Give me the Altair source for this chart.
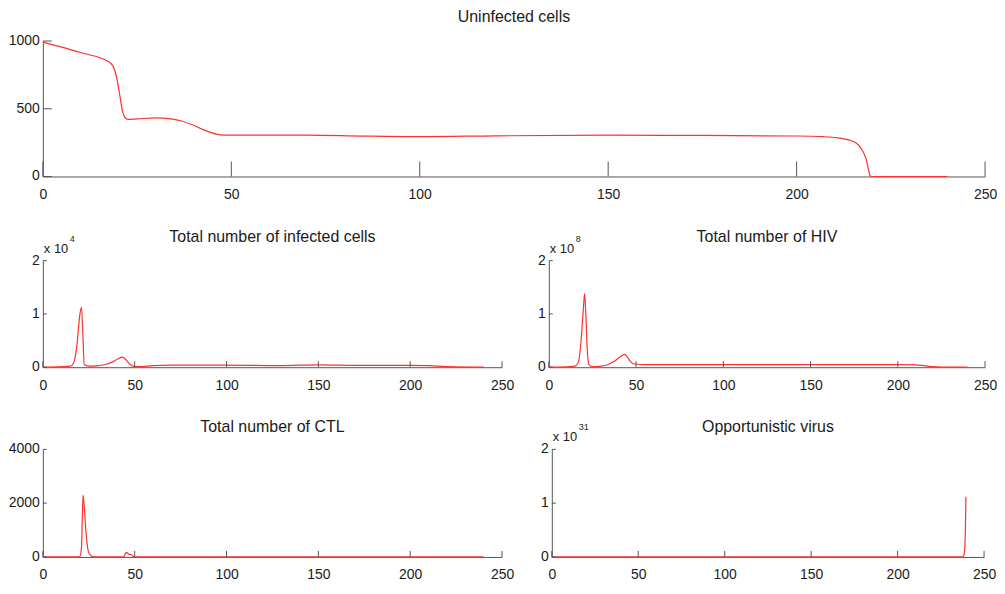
import altair as alt
import pandas as pd

# ---------------- data ----------------
X_TICKS = [0, 50, 100, 150, 200, 250]

uninf_t = [0, 5, 10, 15, 17, 18.5, 19.5, 20.3, 21, 21.7, 22.5, 25, 30, 34, 37, 40, 43, 46, 48,
           55, 70, 85, 100, 120, 150, 175, 200, 207, 211, 214, 216, 217.5, 218.4, 219, 219.5, 220, 240]
uninf_v = [992, 955, 915, 878, 855, 820, 740, 620, 500, 440, 422, 425, 432, 425, 408, 378, 340, 313, 306,
           305, 305, 298, 294, 300, 305, 303, 299, 294, 285, 268, 243, 190, 132, 60, 5, 0, 0]

inf_t = [0, 10, 15, 17, 18.5, 20, 21, 21.8, 22.5, 25, 30, 34, 38, 41, 43.3, 45, 47, 49, 52,
         60, 70, 100, 130, 150, 170, 200, 210, 220, 240]
inf_v = [0, 0.01, 0.02, 0.1, 0.4, 0.95, 1.125, 0.6, 0.05, 0.02, 0.03, 0.05, 0.1, 0.16, 0.19, 0.15, 0.07, 0.02, 0.01,
         0.03, 0.04, 0.04, 0.03, 0.045, 0.035, 0.035, 0.03, 0.01, 0.0]

hiv_t = [0, 10, 15, 17, 18.5, 19.8, 20.5, 21.2, 22, 23, 25, 30, 34, 38, 41, 43.4, 45, 47, 49,
         55, 100, 150, 200, 210, 215, 220, 230, 240]
hiv_v = [0, 0.005, 0.02, 0.1, 0.5, 1.1, 1.38, 1.0, 0.35, 0.05, 0.01, 0.02, 0.05, 0.12, 0.2, 0.24, 0.19, 0.1, 0.06,
         0.05, 0.05, 0.05, 0.05, 0.045, 0.03, 0.01, 0.0, 0.0]

ctl_t = [0, 20, 21, 21.5, 21.9, 22.5, 23.5, 24.8, 26, 27, 30, 44, 45, 45.6, 46.5, 47.3, 47.8, 48.5, 50, 240]
ctl_v = [0, 0, 300, 1500, 2300, 1900, 900, 200, 60, 10, 0, 0, 130, 172, 120, 90, 100, 60, 0, 0]

opp_t = [0, 100, 200, 237.5, 238.3, 238.8, 239.2, 239.5]
opp_v = [0, 0, 0, 0, 0.03, 0.15, 0.5, 1.12]

Y_TICKS_TOP = [0, 500, 1000]
Y_TICKS_2 = [0, 1, 2]
Y_TICKS_CTL = [0, 2000, 4000]

TITLES = ["Uninfected cells", "Total number of infected cells", "Total number of HIV",
          "Total number of CTL", "Opportunistic virus"]
EXP_BASE = "x 10"
EXPONENTS = [None, "4", "8", None, "31"]

# ---------------- style ----------------
FONT = "Liberation Sans, Arial, sans-serif"
LINE = "#ff3030"
AX = "#555555"
TXT = "#1a1a1a"


def panel(t, v, ymax, yticks, w, h, title, exp=None, xtl=7, ytl=5, xpad=11, title_y=-19):
    df = pd.DataFrame({"t": t, "v": v})
    xenc = alt.X("t:Q",
                 scale=alt.Scale(domain=[0, 250], nice=False, zero=False),
                 axis=alt.Axis(values=X_TICKS, title=None, grid=False, ticks=False, tickSize=0,
                               labelPadding=xpad, labelFlush=False, labelOverlap=False, format="d"))
    yscale = alt.Scale(domain=[0, ymax], nice=False, zero=True)
    yenc = alt.Y("v:Q", scale=yscale,
                 axis=alt.Axis(values=yticks, title=None, grid=False, ticks=False, tickSize=0,
                               labels=False, labelFlush=False, labelOverlap=False))
    line = alt.Chart(df).mark_line(color=LINE, strokeWidth=1.2, interpolate="monotone").encode(x=xenc, y=yenc)
    xt = alt.Chart(pd.DataFrame({"t": X_TICKS})).mark_rule(color=AX, strokeWidth=1).encode(
        x=xenc, y=alt.value(h), y2=alt.value(h - xtl))
    ydf = pd.DataFrame({"v": [float(a) for a in yticks], "lab": [str(a) for a in yticks]})
    yt = alt.Chart(ydf).mark_rule(color=AX, strokeWidth=1).encode(
        y=yenc, x=alt.value(0), x2=alt.value(ytl))
    ylab = alt.Chart(ydf).mark_text(font=FONT, fontSize=14, align="right", baseline="middle",
                                    color=TXT).encode(y=yenc, x=alt.value(-3), text="lab:N")
    ttl = alt.Chart(pd.DataFrame({"s": [title]})).mark_text(
        font=FONT, fontSize=16, baseline="alphabetic", align="center", color=TXT).encode(
        text="s:N", x=alt.value(w / 2), y=alt.value(title_y))
    layers = [line, xt, yt, ylab, ttl]
    if exp is not None:
        e1 = alt.Chart(pd.DataFrame({"s": [EXP_BASE]})).mark_text(
            font=FONT, fontSize=13, baseline="alphabetic", align="left", color=TXT).encode(
            text="s:N", x=alt.value(1), y=alt.value(-8))
        e2 = alt.Chart(pd.DataFrame({"s": [exp]})).mark_text(
            font=FONT, fontSize=9, baseline="alphabetic", align="left", color=TXT).encode(
            text="s:N", x=alt.value(27), y=alt.value(-19))
        layers += [e1, e2]
    return alt.layer(*layers).properties(width=w, height=h)


top = panel(uninf_t, uninf_v, 1000, Y_TICKS_TOP, 946, 136, TITLES[0], None, xtl=15, ytl=9)
m_l = panel(inf_t, inf_v, 2, Y_TICKS_2, 461, 107, TITLES[1], EXPONENTS[1], xtl=6, ytl=4)
m_r = panel(hiv_t, hiv_v, 2, Y_TICKS_2, 438, 107, TITLES[2], EXPONENTS[2], xtl=6, ytl=4)
b_l = panel(ctl_t, ctl_v, 4000, Y_TICKS_CTL, 461, 108, TITLES[3], None, xtl=6, ytl=4, title_y=-17)
b_r = panel(opp_t, opp_v, 2, Y_TICKS_2, 434, 108, TITLES[4], EXPONENTS[4], xtl=6, ytl=4, title_y=-17)

row2 = alt.hconcat(m_l, m_r, spacing=47, bounds="flush")
row3 = alt.hconcat(b_l, b_r, spacing=50, bounds="flush")

chart = alt.vconcat(top, row2, row3, spacing=27.5).properties(
    padding=0, background="white"
).configure_view(stroke=None).configure_axis(
    labelFont=FONT, labelFontSize=14, labelColor=TXT, domainColor=AX, domainWidth=1
)

chart.save("out.html", embed_options={"renderer": "svg", "actions": False})
